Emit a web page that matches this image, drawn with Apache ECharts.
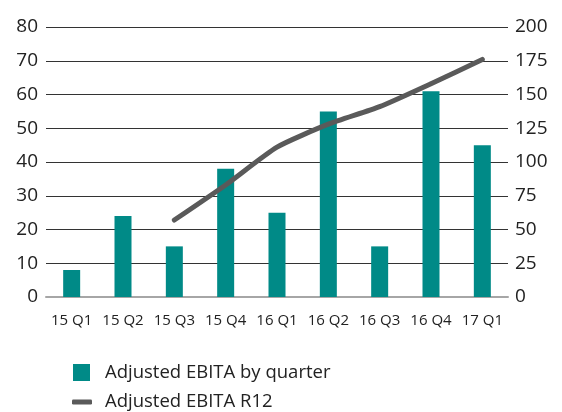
<!DOCTYPE html>
<html><head><meta charset="utf-8">
<script src="https://cdn.jsdelivr.net/npm/echarts@6/dist/echarts.min.js"></script>
<style>html,body{margin:0;padding:0;background:#fff}#c{width:562px;height:412px}</style>
</head><body><div id="c"></div>
<script>
const categories = ['15 Q1','15 Q2','15 Q3','15 Q4','16 Q1','16 Q2','16 Q3','16 Q4','17 Q1'];
const quarterly = [8, 24, 15, 38, 25, 55, 15, 61, 45];
const r12 = [null, null, 57, 83, 111, 128, 141, 158, 176];
const barName = 'Adjusted EBITA by quarter';
const lineName = 'Adjusted EBITA R12';
const font = '"Open Sans", sans-serif';
const chart = echarts.init(document.getElementById('c'));
chart.setOption({
  animation: false,
  grid: {left: 46, right: 54, top: 27, bottom: 115},
  legend: [
    {data: [{name: barName, icon: 'rect'}], orient: 'vertical', left: 73, top: 363, padding: 0,
     itemWidth: 17, itemHeight: 17,
     textStyle: {fontFamily: font, fontSize: 18.5, color: '#222', padding: [0,0,0,10]}},
    {data: [{name: lineName, icon: 'roundRect'}], orient: 'vertical', left: 72, top: 392.5, padding: 0,
     itemWidth: 20, itemHeight: 5,
     textStyle: {fontFamily: font, fontSize: 18.5, color: '#222', padding: [0,0,0,8]}}
  ],
  xAxis: {
    type: 'category', data: categories,
    axisLine: {lineStyle: {color: '#a6a6a6', width: 2}},
    axisTick: {show: false},
    axisLabel: {fontFamily: font, fontSize: 15, color: '#222', margin: 16, interval: 0, hideOverlap: false}
  },
  yAxis: [
    {type: 'value', min: 0, max: 80, interval: 10,
     axisLabel: {fontFamily: font, fontSize: 19, color: '#222', margin: 8},
     splitLine: {lineStyle: {color: '#333', width: 1}}},
    {type: 'value', min: 0, max: 200, interval: 25, position: 'right',
     axisLabel: {fontFamily: font, fontSize: 19, color: '#222', margin: 7},
     splitLine: {show: false}}
  ],
  series: [
    {name: barName, type: 'bar', data: quarterly, barWidth: 17,
     itemStyle: {color: '#008a87'}},
    {name: lineName, type: 'line', yAxisIndex: 1, data: r12, smooth: 0.2,
     showSymbol: false, symbol: 'none',
     lineStyle: {color: '#5a5a5a', width: 5, cap: 'round'},
     itemStyle: {color: '#5a5a5a'}}
  ]
});
</script></body></html>
